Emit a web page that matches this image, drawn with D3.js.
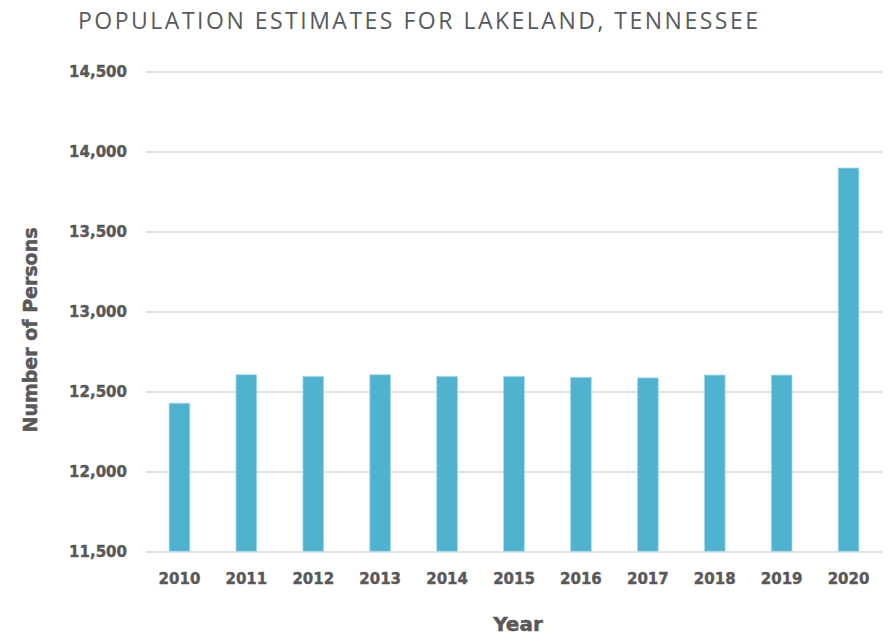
<!DOCTYPE html>
<html>
<head>
<meta charset="utf-8">
<script src="https://cdn.jsdelivr.net/npm/d3@7"></script>
<style>
  html, body { margin: 0; padding: 0; background: #fff; }
  svg { display: block; }
</style>
</head>
<body>
<svg id="chart" width="892" height="636"></svg>
<script>
const years = ["2010","2011","2012","2013","2014","2015","2016","2017","2018","2019","2020"];
const population = [12430, 12608, 12598, 12608, 12598, 12598, 12592, 12588, 12606, 12606, 13900];
const yTicks = [11500, 12000, 12500, 13000, 13500, 14000, 14500];
const titleText = "POPULATION ESTIMATES FOR LAKELAND, TENNESSEE";
const xTitle = "Year";
const yTitle = "Number of Persons";

const svg = d3.select("#chart");
const plotLeft = 146, plotRight = 882, plotTop = 72, plotBottom = 552;
const textColor = "#595959";
const axisFont = "'DejaVu Sans', Lato, sans-serif";

const x = d3.scaleBand().domain(years).range([plotLeft, plotRight]).paddingInner(0.69).paddingOuter(0.345);
const y = d3.scaleLinear().domain([11500, 14500]).range([plotBottom, plotTop]);

// gridlines
svg.append("g").selectAll("line").data(yTicks).join("line")
  .attr("x1", plotLeft).attr("x2", plotRight)
  .attr("y1", d => y(d)).attr("y2", d => y(d))
  .attr("stroke", "#d9d9d9").attr("stroke-width", 1.5);

// bars
svg.append("g").selectAll("rect").data(years).join("rect")
  .attr("x", d => x(d))
  .attr("width", x.bandwidth())
  .attr("y", (d, i) => y(population[i]))
  .attr("height", (d, i) => y(11500) - y(population[i]) - 0.75)
  .attr("fill", "#4fb3d0")
  .attr("stroke", "#a8dbea").attr("stroke-width", 0.8);

// y axis labels
const yAxis = d3.axisLeft(y).tickValues(yTicks).tickFormat(d3.format(",")).tickSize(0).tickPadding(0);
const yg = svg.append("g").attr("transform", "translate(127,0)").call(yAxis);
yg.select(".domain").remove();
yg.selectAll("text")
  .attr("fill", textColor)
  .attr("stroke", textColor).attr("stroke-width", 0.4)
  .style("font-family", axisFont)
  .style("font-weight", "bold")
  .style("font-size", "15px");

// x axis labels
const xAxis = d3.axisBottom(x).tickSize(0).tickPadding(0);
const xg = svg.append("g").attr("transform", "translate(0,573)").call(xAxis);
xg.select(".domain").remove();
xg.selectAll("text")
  .attr("fill", textColor)
  .attr("stroke", textColor).attr("stroke-width", 0.4)
  .attr("dy", "0.71em")
  .style("font-family", axisFont)
  .style("font-weight", "bold")
  .style("font-size", "15px");

// title
svg.append("text")
  .attr("x", 78).attr("y", 29)
  .attr("textLength", 680).attr("lengthAdjust", "spacing")
  .attr("fill", "#555a60")
  .style("font-family", "'Open Sans', sans-serif")
  .style("font-size", "23px")
  .style("font-weight", "400")
  .text(titleText);

// x title
svg.append("text")
  .attr("x", 518).attr("y", 631)
  .attr("text-anchor", "middle")
  .attr("fill", textColor)
  .attr("stroke", textColor).attr("stroke-width", 0.5)
  .style("font-family", axisFont)
  .style("font-weight", "bold")
  .style("font-size", "20px")
  .text(xTitle);

// y title
svg.append("text")
  .attr("transform", "translate(37,330) rotate(-90)")
  .attr("text-anchor", "middle")
  .attr("fill", textColor)
  .attr("stroke", textColor).attr("stroke-width", 0.5)
  .style("font-family", axisFont)
  .style("font-weight", "bold")
  .style("font-size", "19px")
  .text(yTitle);
</script>
</body>
</html>
